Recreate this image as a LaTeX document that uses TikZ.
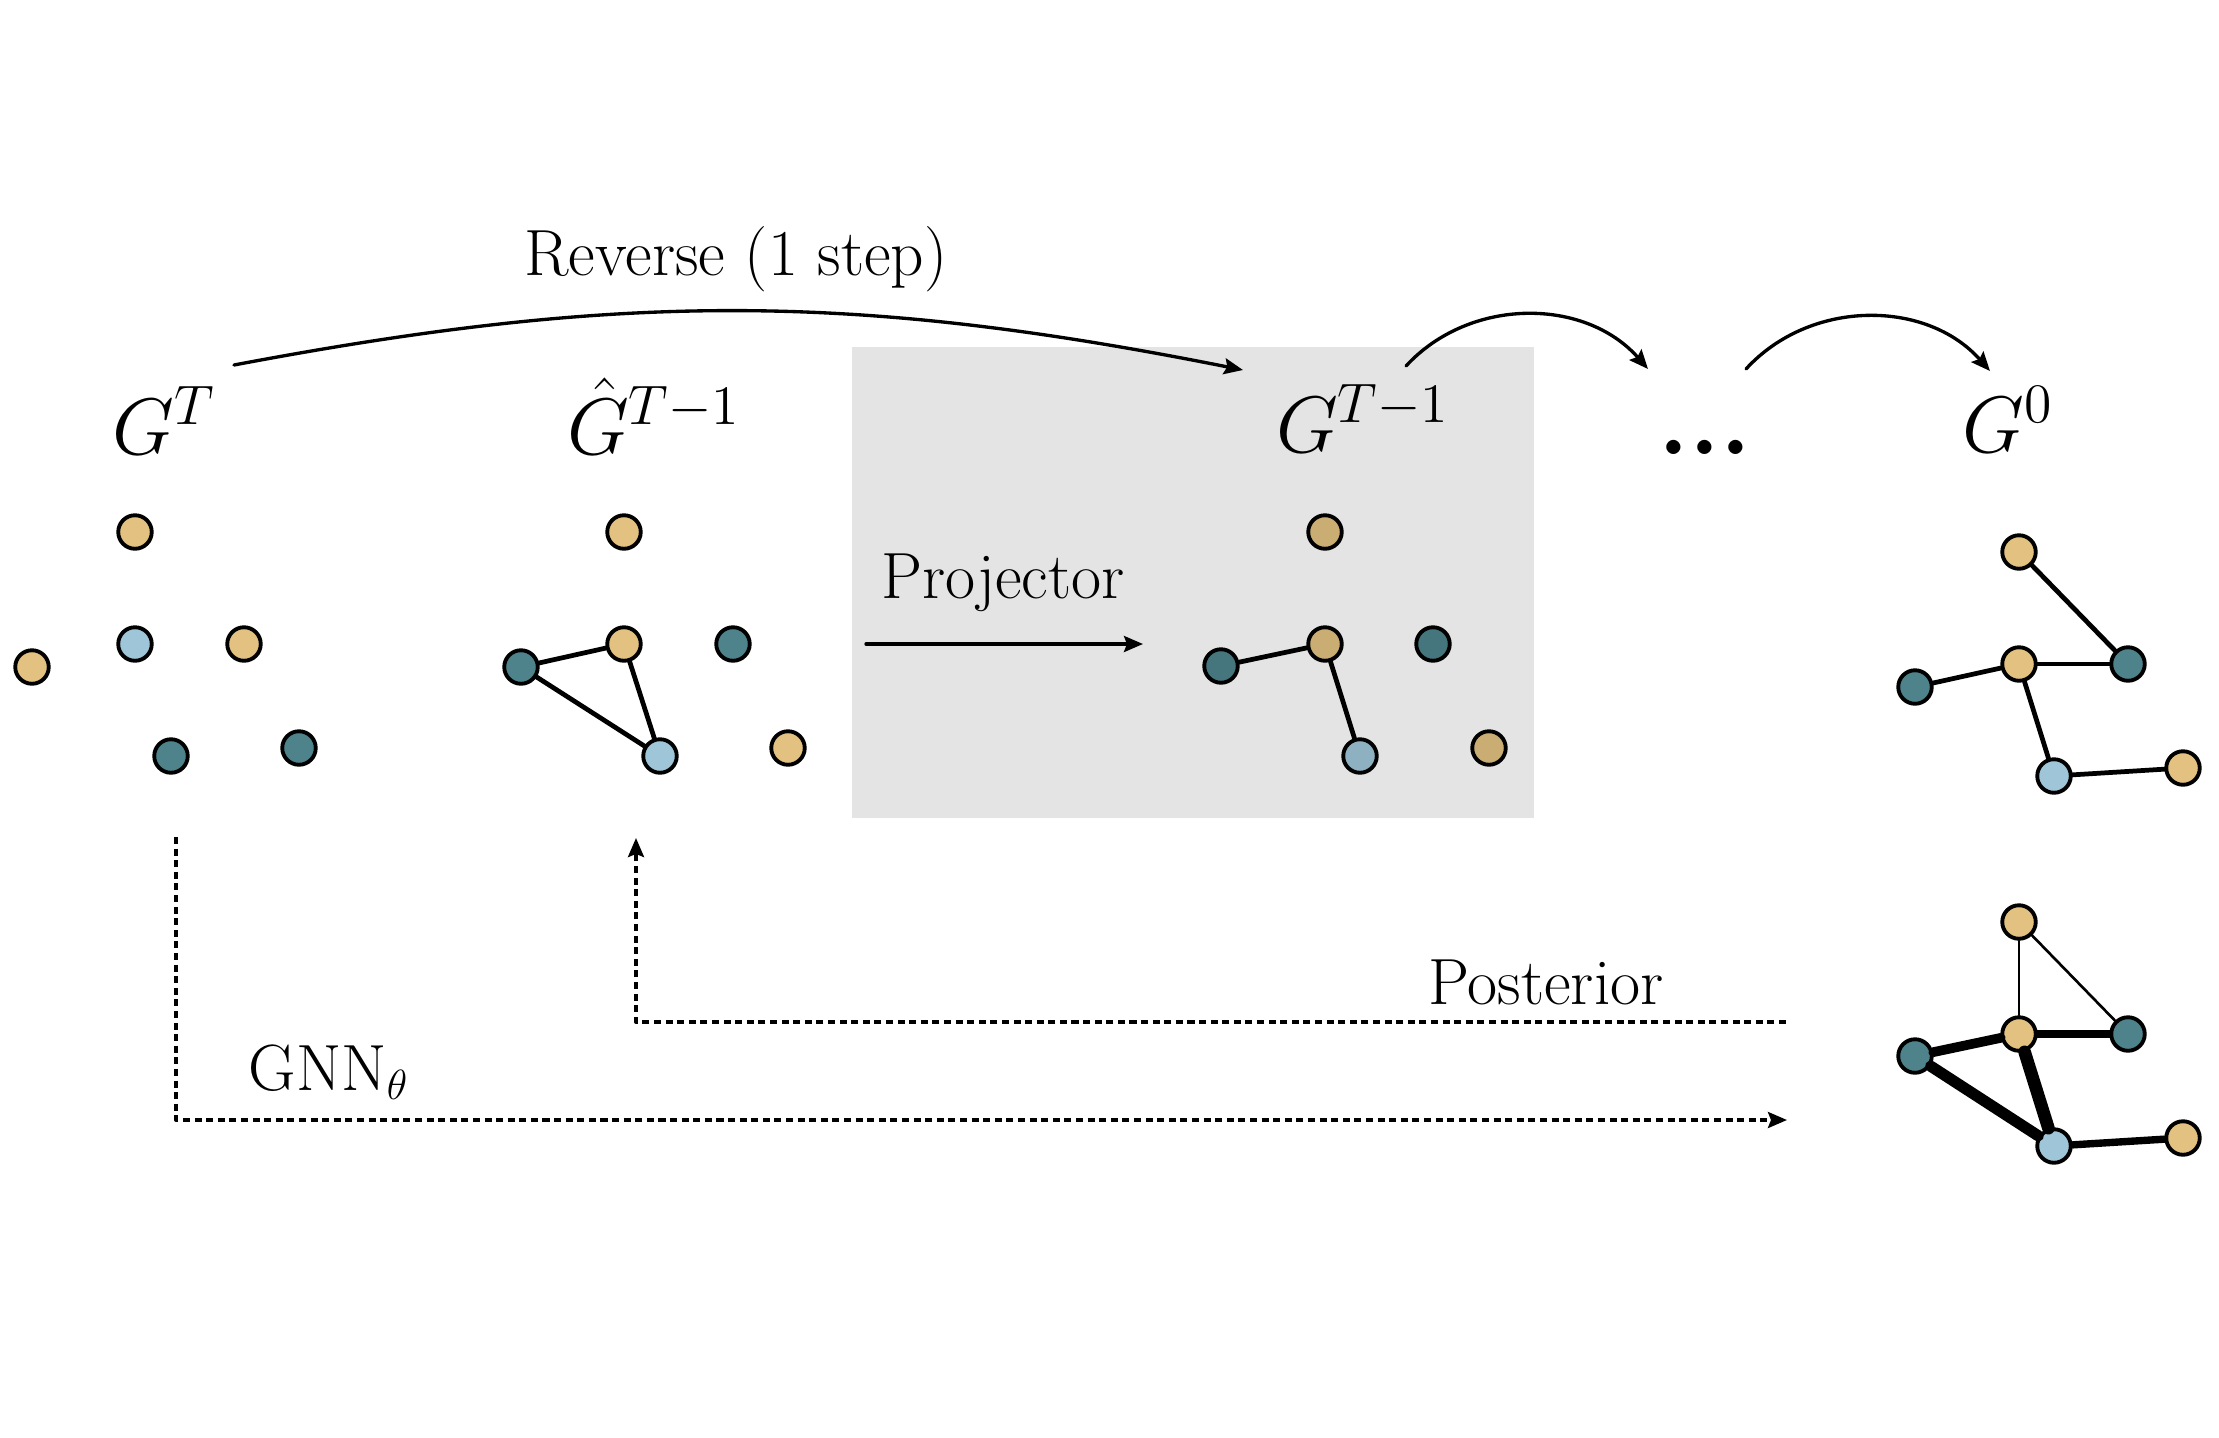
\documentclass[tikz,border=0pt]{standalone}
\usepackage{amsfonts,amsmath,amssymb}
\usepackage{fontspec}
\usetikzlibrary{arrows.meta}
\definecolor{gyel}{HTML}{E3C281}
\definecolor{gblu}{HTML}{9EC6D8}
\definecolor{gtea}{HTML}{4E838C}
\tikzset{
  every picture/.style={line join=round, line cap=round, >={Stealth[length=0.19cm,width=0.16cm,inset=0.03cm]}},
  txt/.style={font=\fontsize{18.6}{22}\selectfont, inner sep=0pt, anchor=base},
  glabel/.style={font=\fontsize{20.74}{24}\selectfont, inner sep=0pt, anchor=base},
  gnode/.style={circle, draw=black, line width=1.1pt, minimum size=0.335cm, inner sep=0pt},
  gedge/.style={line width=1.35pt},
  flow/.style={line width=0.95pt, ->},
  dflow/.style={line width=0.95pt, ->, dash pattern=on 2pt off 1.3pt, line cap=butt},
}

\begin{document}
\begin{tikzpicture}
\useasboundingbox (0,0) rectangle (22.19,-14.37);
\foreach \n/\x/\y/\c in {1/1.35/-5.32/gyel,2/1.35/-6.44/gblu,3/2.44/-6.44/gyel,4/0.32/-6.67/gyel,5/1.71/-7.56/gtea,6/2.99/-7.48/gtea}{\node[gnode,fill=\c] (t\n) at (\x,\y) {};}
\foreach \n/\x/\y/\c in {1/6.24/-5.32/gyel,2/6.24/-6.44/gyel,3/7.33/-6.44/gtea,4/5.21/-6.67/gtea,5/6.60/-7.56/gblu,6/7.88/-7.48/gyel}{\node[gnode,fill=\c] (h\n) at (\x,\y) {};}
\foreach \n/\x/\y/\c in {1/13.25/-5.32/gyel,2/13.25/-6.44/gyel,3/14.33/-6.44/gtea,4/12.21/-6.66/gtea,5/13.60/-7.56/gblu,6/14.89/-7.48/gyel}{\node[gnode,fill=\c] (p\n) at (\x,\y) {};}
\foreach \n/\x/\y/\c in {1/20.19/-5.52/gyel,2/20.19/-6.64/gyel,3/21.28/-6.64/gtea,4/19.15/-6.87/gtea,5/20.54/-7.76/gblu,6/21.83/-7.68/gyel}{\node[gnode,fill=\c] (f\n) at (\x,\y) {};}
\foreach \n/\x/\y/\c in {1/20.19/-9.22/gyel,2/20.19/-10.34/gyel,3/21.28/-10.34/gtea,4/19.15/-10.56/gtea,5/20.54/-11.46/gblu,6/21.83/-11.38/gyel}{\node[gnode,fill=\c] (q\n) at (\x,\y) {};}
\foreach \a/\b in {h4/h2,h4/h5,h2/h5,p4/p2,p2/p5,f1/f3,f2/f3,f4/f2,f2/f5,f5/f6}{\draw[gedge] (\a) -- (\b);}
\foreach \a/\b/\w in {q1/q2/0.5,q1/q3/0.75,q2/q3/2.1,q4/q2/2.75,q4/q5/3.2,q2/q5/3.6,q5/q6/2.1}{\draw[line width=\w pt] (\a) -- (\b);}
\node[glabel] (lT) at (1.64,-4.54) {\scalebox{1.1}{$G^T$}};
\node[glabel] (lhat) at (6.54,-4.54) {\scalebox{1.1}{$\hat{G}^{T-1}$}};
\node[glabel] (lprev) at (13.63,-4.52) {\scalebox{1.1}{$G^{T-1}$}};
\node[glabel] (lzero) at (20.08,-4.52) {\scalebox{1.1}{$G^0$}};
\node[inner sep=0pt, font=\fontsize{28}{28}\selectfont\bfseries] (dots) at (17.05,-4.47) {...};
\node[txt] (rev) at (7.36,-2.75) {Reverse (1 step)};
\node[txt] (proj) at (10.03,-5.98) {Projector};
\node[txt] (post) at (15.46,-10.04) {Posterior};
\node[txt, anchor=base west] (gnn) at (2.48,-10.90) {GNN$_\theta$};
\coordinate (revA) at (2.34,-3.65);
\coordinate (revB) at (12.43,-3.70);
\coordinate (stepA) at (14.06,-3.66);
\coordinate (stepB) at (16.48,-3.69);
\coordinate (stepC) at (17.46,-3.69);
\coordinate (stepD) at (19.90,-3.71);
\coordinate (projA) at (8.66,-6.44);
\coordinate (projB) at (11.43,-6.44);
\coordinate (gnnA) at (1.76,-8.37);
\coordinate (gnnB) at (17.87,-11.20);
\coordinate (postA) at (17.86,-10.22);
\coordinate (postB) at (6.36,-8.38);
\draw[flow] (revA) to[bend left=11] (revB);
\draw[flow] (stepA) to[bend left=48] (stepB);
\draw[flow] (stepC) to[bend left=48] (stepD);
\draw[flow] (projA) -- (projB);
\draw[dflow] (gnnA) |- (gnnB);
\draw[dflow] (postA) -| (postB);
\fill[black, fill opacity=0.105] (8.52,-3.47) rectangle (15.34,-8.18);
\end{tikzpicture}
\end{document}
